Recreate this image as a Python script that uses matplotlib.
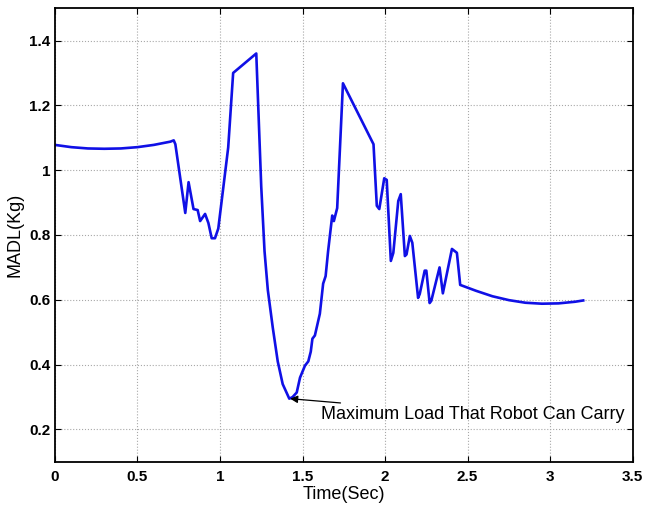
import matplotlib.pyplot as plt

plt.rcParams['font.family'] = ['Liberation Sans', 'DejaVu Sans']

# MADL over time
t = [0.0, 0.1, 0.2, 0.3, 0.4, 0.5, 0.6, 0.7, 0.72, 0.73,
     0.79, 0.81, 0.84, 0.865, 0.88, 0.91, 0.93, 0.95, 0.97, 0.99,
     1.05, 1.08, 1.22, 1.25, 1.27, 1.29, 1.32, 1.35, 1.38, 1.42,
     1.44, 1.465, 1.485, 1.515, 1.535, 1.55, 1.56, 1.575, 1.605, 1.625,
     1.64, 1.655, 1.68, 1.69, 1.71, 1.745, 1.93, 1.95, 1.965, 1.995,
     2.01, 2.035, 2.05, 2.08, 2.095, 2.12, 2.13, 2.15, 2.165, 2.2,
     2.21, 2.24, 2.25, 2.27, 2.28, 2.33, 2.35, 2.405, 2.435, 2.455,
     2.55, 2.65, 2.75, 2.85, 2.95, 3.05, 3.15, 3.2]
madl = [1.078, 1.071, 1.067, 1.066, 1.067, 1.071, 1.078, 1.088, 1.092, 1.08,
        0.868, 0.963, 0.88, 0.877, 0.843, 0.865, 0.837, 0.79, 0.79, 0.82,
        1.07, 1.30, 1.36, 0.95, 0.75, 0.63, 0.514, 0.41, 0.34, 0.295,
        0.30, 0.314, 0.36, 0.397, 0.41, 0.44, 0.48, 0.49, 0.557, 0.65,
        0.673, 0.75, 0.86, 0.843, 0.883, 1.268, 1.08, 0.89, 0.88, 0.975,
        0.97, 0.72, 0.745, 0.905, 0.926, 0.735, 0.74, 0.797, 0.776, 0.606,
        0.618, 0.69, 0.69, 0.59, 0.597, 0.70, 0.62, 0.757, 0.745, 0.646,
        0.628, 0.611, 0.599, 0.591, 0.588, 0.589, 0.594, 0.598]

min_t = 1.425
min_val = 0.295

fig = plt.figure(figsize=(6.45, 5.07), dpi=100)
ax = fig.add_axes([0.085, 0.089, 0.896, 0.895])

ax.plot(t, madl, color='#1010e6', linewidth=1.9)

ax.annotate('Maximum Load That Robot Can Carry', xy=(min_t, min_val),
            xytext=(1.615, 0.247), fontsize=13, va='center', ha='left',
            arrowprops=dict(arrowstyle='-|>', color='black', lw=0.9,
                            mutation_scale=11, shrinkA=0, shrinkB=0))

ax.set_xlim(0, 3.5)
ax.set_ylim(0.1, 1.5)
ax.set_xticks([0, 0.5, 1, 1.5, 2, 2.5, 3, 3.5])
ax.set_xticklabels(['0', '0.5', '1', '1.5', '2', '2.5', '3', '3.5'])
ax.set_yticks([0.2, 0.4, 0.6, 0.8, 1.0, 1.2, 1.4])
ax.set_yticklabels(['0.2', '0.4', '0.6', '0.8', '1', '1.2', '1.4'])
for lbl in ax.get_xticklabels() + ax.get_yticklabels():
    lbl.set_fontweight('bold')
    lbl.set_fontsize(11)

ax.tick_params(direction='in', top=True, right=True, length=4)
ax.tick_params(axis='x', pad=6)
ax.tick_params(axis='y', pad=3)
ax.grid(True, linestyle=':', color='#a8a8a8', linewidth=0.8)
for s in ax.spines.values():
    s.set_linewidth(1.3)

ax.set_xlabel('Time(Sec)', fontsize=13, labelpad=1)
ax.set_ylabel('MADL(Kg)', fontsize=13, labelpad=4)

fig.savefig('out.png', dpi=100)
